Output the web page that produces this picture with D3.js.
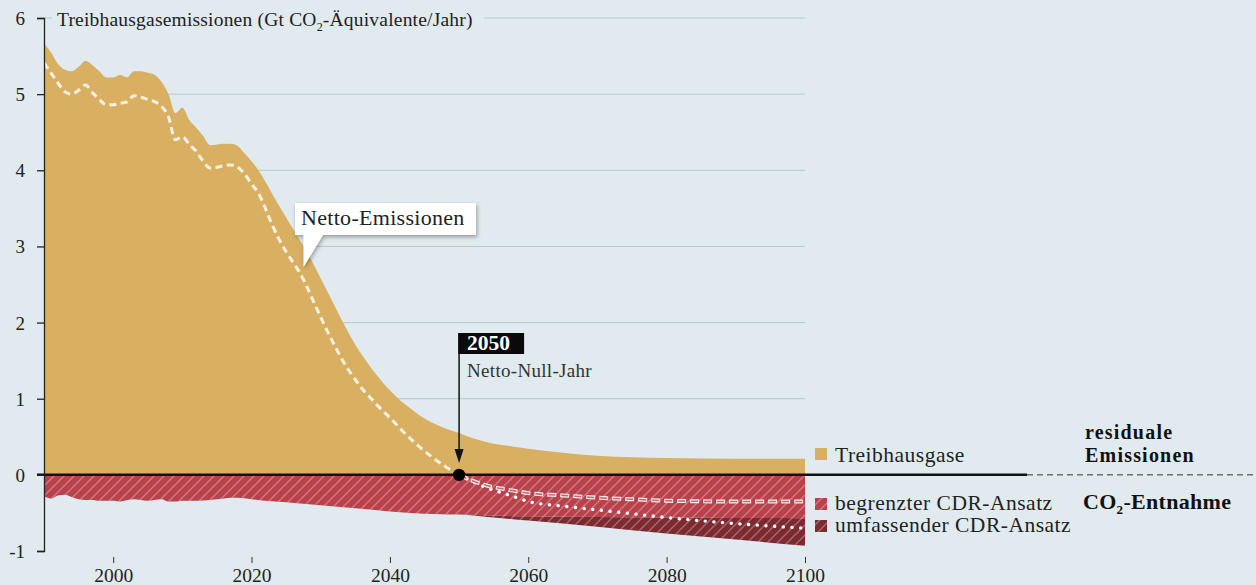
<!DOCTYPE html>
<html><head><meta charset="utf-8">
<script src="https://cdn.jsdelivr.net/npm/d3@7"></script>
<style>
body{margin:0;background:#e1eaee;}
svg{display:block;font-family:"Liberation Serif","Times New Roman",serif;}
</style>
</head><body>
<svg id="c" width="1256" height="585"></svg>
<script>
// ---------- data ----------
const grossYears  = [1990,1991,1992,1993,1994,1995,1996,1997,1998,1999,2000,2001,2002,2003,2004,2005,2006,2007,2008,2009,2010,2011,2012,2013,2014,2015,2016,2017,2018,2019,2020,2021,2022,2023,2024,2025,2026,2027,2028,2029,2030,2031,2032,2033,2034,2035,2036,2037,2038,2039,2040,2041,2042,2043,2044,2046,2048,2050,2052,2055,2058,2062,2066,2070,2075,2080,2090,2100];
const grossValues = [5.67,5.55,5.40,5.32,5.30,5.36,5.44,5.38,5.30,5.22,5.22,5.25,5.22,5.30,5.30,5.28,5.25,5.16,5.00,4.75,4.82,4.66,4.56,4.45,4.33,4.34,4.35,4.35,4.32,4.22,4.12,4.00,3.85,3.69,3.53,3.38,3.23,3.08,2.93,2.76,2.58,2.40,2.22,2.04,1.87,1.71,1.57,1.44,1.32,1.21,1.11,1.02,0.94,0.87,0.80,0.69,0.61,0.55,0.48,0.41,0.37,0.32,0.28,0.25,0.23,0.22,0.21,0.21];

const netYears  = [1990,1991,1992,1993,1994,1995,1996,1997,1998,1999,2000,2001,2002,2003,2004,2005,2006,2007,2008,2009,2010,2011,2012,2013,2014,2015,2016,2017,2018,2019,2020,2021,2022,2023,2024,2025,2026,2027,2028,2029,2030,2031,2032,2033,2034,2035,2036,2037,2038,2039,2040,2042,2044,2046,2048,2050];
const netValues = [5.41,5.28,5.15,5.03,5.00,5.05,5.12,5.02,4.93,4.86,4.86,4.88,4.90,4.98,4.96,4.93,4.90,4.84,4.70,4.40,4.44,4.34,4.25,4.12,4.03,4.04,4.06,4.07,4.04,3.95,3.82,3.70,3.50,3.28,3.09,2.93,2.79,2.65,2.47,2.27,2.07,1.88,1.70,1.53,1.38,1.25,1.13,1.03,0.93,0.84,0.75,0.56,0.39,0.24,0.11,0.00];

const netFutureYears = [2050,2052,2054,2056,2058,2060,2065,2070,2075,2080,2090,2100];
const netLimValues   = [0.00,-0.08,-0.14,-0.18,-0.21,-0.24,-0.27,-0.30,-0.32,-0.34,-0.35,-0.35];
const netCompValues  = [0.00,-0.09,-0.17,-0.23,-0.29,-0.35,-0.41,-0.46,-0.51,-0.56,-0.64,-0.70];

const cdrYears     = [1990,1991,1992,1993,1994,1995,1996,1997,1998,1999,2000,2001,2002,2003,2004,2005,2006,2007,2008,2009,2010,2012,2014,2016,2017,2018,2020,2022,2025,2030,2035,2040,2045,2050,2055,2060,2070,2080,2090,2100];
const cdrLimValues = [-0.28,-0.31,-0.27,-0.26,-0.29,-0.32,-0.33,-0.33,-0.34,-0.34,-0.34,-0.35,-0.33,-0.32,-0.33,-0.34,-0.33,-0.32,-0.35,-0.35,-0.34,-0.34,-0.33,-0.31,-0.30,-0.30,-0.32,-0.34,-0.36,-0.40,-0.44,-0.48,-0.51,-0.52,-0.535,-0.545,-0.555,-0.56,-0.565,-0.57];
const cdrCompValues= [-0.28,-0.31,-0.27,-0.26,-0.29,-0.32,-0.33,-0.33,-0.34,-0.34,-0.34,-0.35,-0.33,-0.32,-0.33,-0.34,-0.33,-0.32,-0.35,-0.35,-0.34,-0.34,-0.33,-0.31,-0.30,-0.30,-0.32,-0.34,-0.36,-0.40,-0.44,-0.48,-0.51,-0.52,-0.56,-0.60,-0.68,-0.77,-0.85,-0.93];

const xTicks = [2000,2020,2040,2060,2080,2100];
const yTicks = [-1,0,1,2,3,4,5,6];
const netZeroYear = 2050;

// ---------- colours ----------
const C = {bg:"#e1eaee", grid:"#bcc7cd", gold:"#d9b062", red:"#b8414b", dark:"#7c2a30", text:"#222"};

const svg = d3.select("#c");
const x = d3.scaleLinear().domain([1990,2100]).range([44,805]);
const y = d3.scaleLinear().domain([-1,6]).range([551,18]);

const defs = svg.append("defs");
const pat = defs.append("pattern").attr("id","hatch").attr("patternUnits","userSpaceOnUse")
  .attr("width",10).attr("height",10);
pat.append("path").attr("d","M0,10L10,0M-2.5,2.5L2.5,-2.5M7.5,12.5L12.5,7.5")
  .attr("stroke","#fff").attr("stroke-opacity",0.3).attr("stroke-width",1.4);
const sh = defs.append("filter").attr("id","shadow").attr("x","-20%").attr("y","-30%").attr("width","140%").attr("height","170%");
sh.append("feDropShadow").attr("dx",1).attr("dy",2).attr("stdDeviation",2).attr("flood-color","#000").attr("flood-opacity",0.35);

svg.append("rect").attr("width",1256).attr("height",585).attr("fill",C.bg);

// gridlines
const gridG = svg.append("g");
gridG.selectAll("line").data(yTicks.filter(d=>d>0)).join("line")
  .attr("x1",x(1990)).attr("x2",x(2100)).attr("y1",d=>y(d)).attr("y2",d=>y(d))
  .attr("stroke",C.grid).attr("stroke-width",1);

// gross area
const gross = grossYears.map((d,i)=>({year:d,v:grossValues[i]}));
svg.append("path").datum(gross)
  .attr("d",d3.area().x(d=>x(d.year)).y0(y(0)).y1(d=>y(d.v)).curve(d3.curveMonotoneX))
  .attr("fill",C.gold);

// CDR areas
const cdr = cdrYears.map((d,i)=>({year:d,lim:cdrLimValues[i],comp:cdrCompValues[i]}));
svg.append("path").datum(cdr)
  .attr("d",d3.area().x(d=>x(d.year)).y0(d=>y(d.lim)).y1(d=>y(d.comp)).curve(d3.curveMonotoneX))
  .attr("fill",C.dark);
svg.append("path").datum(cdr)
  .attr("d",d3.area().x(d=>x(d.year)).y0(y(0)).y1(d=>y(d.lim)).curve(d3.curveMonotoneX))
  .attr("fill",C.red);
svg.append("path").datum(cdr)
  .attr("d",d3.area().x(d=>x(d.year)).y0(y(0)).y1(d=>y(d.comp)).curve(d3.curveMonotoneX))
  .attr("fill","url(#hatch)");

// zero line
svg.append("line").attr("x1",37).attr("x2",1027).attr("y1",y(0)).attr("y2",y(0))
  .attr("stroke","#111").attr("stroke-width",2.5);
svg.append("line").attr("x1",1027).attr("x2",1256).attr("y1",y(0)).attr("y2",y(0))
  .attr("stroke","#333").attr("stroke-width",1).attr("stroke-dasharray","6,4");

// net lines
const line = d3.line().x(d=>x(d.year)).y(d=>y(d.v)).curve(d3.curveMonotoneX);
const net = netYears.map((d,i)=>({year:d,v:netValues[i]}));
svg.append("path").datum(net).attr("d",line).attr("fill","none")
  .attr("stroke","#f7f1e3").attr("stroke-width",3).attr("stroke-dasharray","7,4.5");
const netLim = netFutureYears.map((d,i)=>({year:d,v:netLimValues[i]}));
const netComp = netFutureYears.map((d,i)=>({year:d,v:netCompValues[i]}));
svg.append("path").datum(netComp).attr("d",line).attr("fill","none")
  .attr("stroke","#fff").attr("stroke-width",3.4).attr("stroke-linecap","round").attr("stroke-dasharray","0.1,8.6");
svg.append("path").datum(netLim).attr("d",line).attr("fill","none")
  .attr("stroke","#f4ecec").attr("stroke-width",4).attr("stroke-dasharray","9,4");
svg.append("path").datum(netLim).attr("d",line).attr("fill","none")
  .attr("stroke","#c96a72").attr("stroke-width",1.6).attr("stroke-dasharray","7,6").attr("stroke-dashoffset",-1);

// axes
const yAx = svg.append("g").attr("transform",`translate(${x(1990)},0)`)
  .call(d3.axisLeft(y).tickValues(yTicks).tickSize(7).tickFormat(d=>String(d)));
yAx.selectAll("path,line").attr("stroke","#222").attr("stroke-width",1.3);
yAx.selectAll("text").attr("x",-19).attr("dy","0.34em").attr("fill",C.text)
  .style("font-size","19px").style("font-family","Liberation Serif, serif");

const xAx = svg.append("g").attr("transform",`translate(0,557)`)
  .call(d3.axisBottom(x).tickValues(xTicks).tickSize(6).tickFormat(d=>String(d)));
xAx.select(".domain").remove();
xAx.selectAll("line").attr("stroke","#333").attr("stroke-width",1);
xAx.selectAll("text").attr("y",25).attr("dy",0).attr("fill",C.text)
  .style("font-size","19.5px").style("font-family","Liberation Serif, serif");

// title (with background knock-out of top gridline)
const titleBg = svg.append("rect").attr("fill",C.bg);
const title = svg.append("text").attr("x",57).attr("y",26).attr("fill",C.text)
  .style("font-size","19.5px").style("letter-spacing","0.2px");
title.append("tspan").text("Treibhausgasemissionen (Gt CO");
title.append("tspan").attr("dy",5).style("font-size","12px").text("2");
title.append("tspan").attr("dy",-5).text("-Äquivalente/Jahr)");
const tb = title.node().getBBox();
titleBg.attr("x",tb.x-5).attr("y",y(6)-3).attr("width",tb.width+16).attr("height",6);

// Netto-Emissionen callout
const cg = svg.append("g").attr("filter","url(#shadow)");
cg.append("path").attr("d","M295,203H476V235H323L303.5,267V235H295Z").attr("fill","#fff");
svg.append("text").attr("x",301).attr("y",225).attr("fill",C.text)
  .style("font-size","22px").style("letter-spacing","0.3px").text("Netto-Emissionen");

// 2050 annotation
const xz = x(netZeroYear);
svg.append("rect").attr("x",xz-1).attr("y",333).attr("width",66).attr("height",21).attr("fill","#0a0a0a");
svg.append("text").attr("x",xz+8).attr("y",350).attr("fill","#fff")
  .style("font-size","21.5px").style("font-weight","bold").text(String(netZeroYear));
svg.append("text").attr("x",xz+8).attr("y",377).attr("fill","#333")
  .style("font-size","19px").style("letter-spacing","0.3px").text("Netto-Null-Jahr");
svg.append("line").attr("x1",xz).attr("x2",xz).attr("y1",354).attr("y2",452)
  .attr("stroke","#111").attr("stroke-width",1.5);
svg.append("path").attr("d",`M${xz-4.5},449L${xz+4.5},449L${xz},463Z`).attr("fill","#111");
svg.append("circle").attr("cx",xz).attr("cy",y(0)).attr("r",6.2).attr("fill","#000");

// legend
const leg = [
  {label:"Treibhausgase", fill:C.gold, hatch:false, ys:448, yt:462},
  {label:"begrenzter CDR-Ansatz", fill:C.red, hatch:true, ys:498, yt:510},
  {label:"umfassender CDR-Ansatz", fill:C.dark, hatch:true, ys:520, yt:532}
];
leg.forEach(l=>{
  svg.append("rect").attr("x",815).attr("y",l.ys).attr("width",12).attr("height",12).attr("fill",l.fill);
  if(l.hatch) svg.append("rect").attr("x",815).attr("y",l.ys).attr("width",12).attr("height",12).attr("fill","url(#hatch)");
  svg.append("text").attr("x",835).attr("y",l.yt).attr("fill",C.text)
    .style("font-size","21.5px").style("letter-spacing","0.5px").text(l.label);
});
svg.append("text").attr("x",1085).attr("y",439).attr("fill","#111")
  .style("font-size","20px").style("font-weight","bold").style("letter-spacing","1.2px").text("residuale");
svg.append("text").attr("x",1085).attr("y",462).attr("fill","#111")
  .style("font-size","20px").style("font-weight","bold").style("letter-spacing","1.2px").text("Emissionen");
const co = svg.append("text").attr("x",1083).attr("y",509).attr("fill","#111")
  .style("font-size","22px").style("font-weight","bold").style("letter-spacing","0.3px");
co.append("tspan").text("CO");
co.append("tspan").attr("dy",5).style("font-size","13px").text("2");
co.append("tspan").attr("dy",-5).text("-Entnahme");
</script>
</body></html>
